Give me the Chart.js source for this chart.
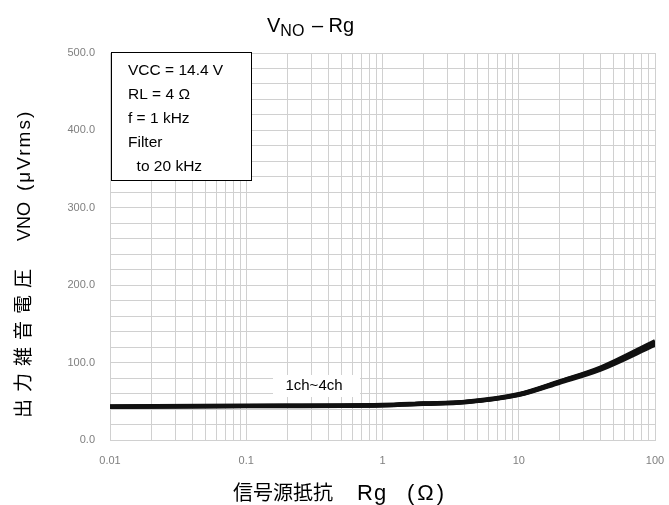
<!DOCTYPE html>
<html lang="ja">
<head>
<meta charset="UTF-8" />
<title>VNO - Rg</title>
<script src="https://cdn.jsdelivr.net/npm/chart.js"></script>
<style>
  html, body { margin: 0; padding: 0; background: #fff; }
  #wrap { width: 669px; height: 505px; }
</style>
</head>
<body>
<div id="wrap"><canvas id="c" width="669" height="505"></canvas></div>
<script>
// source resistance (ohm) and output noise (uVrms)
const rg = [0.01, 0.1, 1, 2, 4, 10, 20, 40, 100];
const ch1 = [42.5, 43.5, 44.5, 46.5, 48.5, 58, 74, 91, 123];
const ch2 = [43, 44, 45, 47, 49, 58.5, 75, 92, 125];
const ch3 = [43, 44, 45, 47, 49, 59, 75.5, 93, 126];
const ch4 = [43.5, 44.5, 45.5, 47.5, 49.5, 59.5, 76, 94, 128];
const xLabels = ['0.01', '0.1', '1', '10', '100'];
const yLabels = ['0.0', '100.0', '200.0', '300.0', '400.0', '500.0'];
const conditions = ['VCC = 14.4 V', 'RL = 4 Ω', 'f = 1 kHz', 'Filter', '  to 20 kHz'];

const sans = '"Liberation Sans", Arial, sans-serif';
const jp = '"Noto Sans CJK JP", sans-serif';

function series(vals) {
  return {
    data: rg.map((x, i) => ({ x: x, y: vals[i] })),
    borderColor: '#111',
    borderWidth: 4,
    pointRadius: 0,
    fill: false,
    cubicInterpolationMode: 'monotone'
  };
}

const extras = {
  id: 'extras',
  afterDraw(chart) {
    const ctx = chart.ctx;
    ctx.save();
    ctx.fillStyle = '#000';
    ctx.textAlign = 'left';
    ctx.textBaseline = 'alphabetic';

    // title with subscript
    ctx.font = '20px ' + sans;
    ctx.fillText('V', 267, 32);
    let x = 267 + ctx.measureText('V').width;
    ctx.font = '16px ' + sans;
    ctx.fillText('NO', x, 36);
    x += ctx.measureText('NO').width;
    ctx.font = '20px ' + sans;
    ctx.fillText(' – Rg', x + 2, 32);

    // x axis title
    ctx.font = '20px ' + jp;
    ctx.fillText('信号源抵抗', 233, 500);
    ctx.font = '22px ' + sans;
    ctx.letterSpacing = '1px';
    ctx.fillText('Rg', 357, 500);
    ctx.letterSpacing = '3px';
    ctx.fillText('(Ω)', 407, 500);
    ctx.letterSpacing = '0px';

    // y axis title (rotated)
    ctx.save();
    ctx.translate(30, 0);
    ctx.rotate(-Math.PI / 2);
    ctx.font = '19px ' + jp;
    ctx.letterSpacing = '7px';
    ctx.fillText('出力雑音電圧', -418, 0);
    ctx.font = '18px ' + sans;
    ctx.letterSpacing = '0px';
    ctx.fillText('VNO', -241, 0);
    ctx.font = '19px ' + sans;
    ctx.letterSpacing = '2px';
    ctx.fillText('(μVrms)', -191, 0);
    ctx.letterSpacing = '0px';
    ctx.restore();

    // conditions box
    const bx = 111, by = 52, bw = 140, bh = 128;
    ctx.fillStyle = '#fff';
    ctx.fillRect(bx, by, bw, bh);
    ctx.strokeStyle = '#000';
    ctx.lineWidth = 1;
    ctx.strokeRect(bx + 0.5, by + 0.5, bw, bh);
    ctx.fillStyle = '#000';
    ctx.textBaseline = 'middle';
    ctx.font = '15.5px ' + sans;
    conditions.forEach((s, i) => ctx.fillText(s, 128, 71 + i * 24));

    // series label
    ctx.fillStyle = '#fff';
    ctx.fillRect(273, 375, 87, 22);
    ctx.fillStyle = '#000';
    ctx.textAlign = 'center';
    ctx.font = '15px ' + sans;
    ctx.fillText('1ch~4ch', 314, 386);

    ctx.restore();
  }
};

new Chart(document.getElementById('c'), {
  type: 'line',
  data: { datasets: [series(ch1), series(ch2), series(ch3), series(ch4)] },
  options: {
    responsive: false,
    animation: false,
    devicePixelRatio: 1,
    layout: { padding: { top: 53, right: 14, left: 0, bottom: 0 } },
    plugins: { legend: { display: false }, tooltip: { enabled: false } },
    scales: {
      x: {
        type: 'logarithmic',
        min: 0.01,
        max: 100,
        afterFit(s) { s.height = 65; },
        grid: { color: '#d0d0d0', drawTicks: true, tickLength: 13, tickColor: 'rgba(0,0,0,0)', lineWidth: 1 },
        border: { color: '#d0d0d0' },
        ticks: {
          autoSkip: false,
          maxRotation: 0,
          padding: 1,
          color: '#7f7f7f',
          font: { size: 11, family: sans },
          callback(v) {
            const l = Math.log10(v);
            if (Math.abs(l - Math.round(l)) < 1e-6) return xLabels[Math.round(l) + 2];
            return '';
          }
        },
        afterBuildTicks(s) {
          const t = [];
          for (let d = -2; d <= 1; d++) {
            for (let m = 1; m <= 9; m++) t.push({ value: m * Math.pow(10, d) });
          }
          t.push({ value: 100 });
          s.ticks = t;
        }
      },
      y: {
        min: 0,
        max: 500,
        afterFit(s) { s.width = 110; },
        grid: { color: '#d0d0d0', drawTicks: false, lineWidth: 1 },
        border: { color: '#d0d0d0' },
        ticks: {
          stepSize: 20,
          autoSkip: false,
          padding: 15,
          color: '#7f7f7f',
          font: { size: 11, family: sans },
          callback(v) {
            return v % 100 === 0 ? yLabels[v / 100] : '';
          }
        }
      }
    }
  },
  plugins: [extras]
});
</script>
</body>
</html>
